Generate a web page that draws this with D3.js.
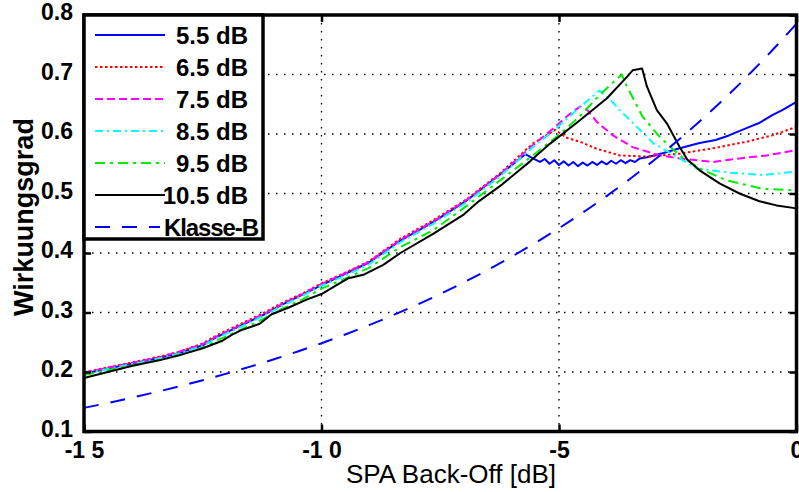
<!DOCTYPE html>
<html>
<head>
<meta charset="utf-8">
<script src="https://cdn.jsdelivr.net/npm/d3@7"></script>
<style>
  html, body { margin: 0; padding: 0; background: #fff; }
  svg { display: block; }
  text { font-family: "Liberation Sans", Arial, sans-serif; fill: #000; }
</style>
</head>
<body>
<svg id="chart" width="799" height="492"></svg>
<script>
// ---------------- data ----------------
const xTicks = [-15, -10, -5, 0];
const xTickLabels = ["-1 5", "-1 0", "-5", "0"];
const yTicks = [0.1, 0.2, 0.3, 0.4, 0.5, 0.6, 0.7, 0.8];
const yTickLabels = ["0.1", "0.2", "0.3", "0.4", "0.5", "0.6", "0.7", "0.8"];

const seriesNames = ["5.5 dB", "6.5 dB", "7.5 dB", "8.5 dB", "9.5 dB", "10.5 dB", "Klasse-B"];

const s55 = [[-15,0.197],[-14.5,0.206],[-14,0.214],[-13.4,0.224],[-13,0.232],[-12.5,0.245],[-12.2,0.259],
  [-11.7,0.278],[-11.2,0.297],[-10.86,0.312],[-10.4,0.330],[-10,0.346],[-9.5,0.365],[-9,0.384],[-8.34,0.421],
  [-7.65,0.452],[-6.93,0.489],[-6.24,0.532],[-5.71,0.566],[-5.55,0.559],[-5.4,0.553],[-5.3,0.558],[-5.2,0.550],
  [-5.1,0.556],[-5.0,0.548],[-4.9,0.554],[-4.8,0.547],[-4.7,0.553],[-4.6,0.546],[-4.5,0.552],[-4.4,0.547],
  [-4.3,0.553],[-4.2,0.548],[-4.1,0.554],[-4.0,0.549],[-3.9,0.555],[-3.8,0.550],[-3.7,0.556],[-3.6,0.551],
  [-3.5,0.556],[-3.4,0.553],[-3.3,0.559],[-3.15,0.561],[-2.8,0.568],[-2.46,0.576],[-2.04,0.585],[-1.7,0.590],
  [-1.41,0.598],[-0.99,0.612],[-0.8,0.618],[-0.5,0.632],[-0.3,0.640],[0,0.654]];

const s65 = [[-15,0.199],[-14.5,0.208],[-14,0.216],[-13.4,0.226],[-13,0.234],[-12.5,0.248],[-12.2,0.262],
  [-11.7,0.281],[-11.2,0.300],[-10.86,0.315],[-10.4,0.332],[-10,0.349],[-9.5,0.367],[-9,0.386],[-8.34,0.424],
  [-7.65,0.455],[-6.93,0.491],[-6.24,0.534],[-5.55,0.584],[-5.08,0.607],[-4.85,0.594],[-4.56,0.587],
  [-4.2,0.575],[-3.72,0.564],[-3.15,0.562],[-2.46,0.567],[-1.76,0.576],[-1.05,0.587],[-0.5,0.598],[0,0.612]];

const s75 = [[-15,0.199],[-14.5,0.207],[-14,0.215],[-13.4,0.225],[-13,0.234],[-12.5,0.247],[-12.2,0.260],
  [-11.7,0.279],[-11.2,0.298],[-10.86,0.313],[-10.4,0.331],[-10,0.348],[-9.5,0.366],[-9,0.385],[-8.34,0.422],
  [-7.65,0.453],[-6.93,0.490],[-6.24,0.532],[-5.55,0.581],[-5.08,0.612],[-4.8,0.632],[-4.56,0.646],
  [-4.4,0.640],[-4.2,0.620],[-3.87,0.598],[-3.45,0.578],[-2.88,0.564],[-2.46,0.559],[-1.76,0.553],
  [-1.2,0.559],[-0.63,0.564],[0,0.573]];

const s85 = [[-15,0.197],[-14.5,0.205],[-14,0.213],[-13.4,0.223],[-13,0.231],[-12.5,0.244],[-12.2,0.257],
  [-11.7,0.276],[-11.2,0.295],[-10.86,0.310],[-10.4,0.328],[-10,0.345],[-9.5,0.362],[-9,0.381],[-8.34,0.418],
  [-7.65,0.449],[-6.93,0.486],[-6.24,0.529],[-5.55,0.578],[-5.08,0.608],[-4.56,0.645],[-4.15,0.673],
  [-3.95,0.660],[-3.72,0.640],[-3.36,0.612],[-3.01,0.584],[-2.46,0.559],[-2.1,0.542],[-1.41,0.535],
  [-0.71,0.531],[0,0.537]];

const s95 = [[-15,0.195],[-14.5,0.203],[-14,0.211],[-13.4,0.220],[-13,0.228],[-12.5,0.241],[-12.2,0.253],
  [-11.7,0.271],[-11.2,0.290],[-10.86,0.305],[-10.4,0.322],[-10,0.340],[-9.5,0.357],[-9,0.375],[-8.34,0.410],
  [-7.65,0.438],[-6.93,0.480],[-6.24,0.522],[-5.55,0.564],[-4.98,0.600],[-4.56,0.630],[-4.14,0.666],
  [-3.68,0.700],[-3.57,0.680],[-3.24,0.629],[-2.88,0.595],[-2.46,0.564],[-2.04,0.542],[-1.47,0.522],
  [-0.71,0.508],[0,0.505]];

const s105 = [[-15,0.190],[-14.5,0.200],[-14,0.210],[-13.4,0.220],[-13,0.228],[-12.5,0.240],[-12.1,0.252],
  [-11.9,0.262],[-11.7,0.270],[-11.3,0.281],[-11.05,0.297],[-10.7,0.308],[-10.3,0.322],[-10,0.331],
  [-9.7,0.345],[-9.45,0.357],[-9.1,0.364],[-8.7,0.380],[-8.34,0.400],[-7.65,0.432],[-7.0,0.465],
  [-6.72,0.485],[-6.2,0.515],[-5.9,0.535],[-5.61,0.554],[-5.2,0.583],[-4.56,0.623],[-3.99,0.660],
  [-3.57,0.696],[-3.45,0.707],[-3.25,0.710],[-3.15,0.680],[-2.94,0.640],[-2.73,0.618],[-2.46,0.578],
  [-2.3,0.557],[-2.04,0.539],[-1.62,0.517],[-1.2,0.500],[-0.78,0.487],[-0.42,0.480],[0,0.475]];

const klasseB = [[-15,0.1397],[-14.5,0.1479],[-14,0.1567],[-13.5,0.1660],[-13,0.1758],[-12.5,0.1862],
  [-12,0.1973],[-11.5,0.2090],[-11,0.2214],[-10.5,0.2345],[-10,0.2484],[-9.5,0.2631],[-9,0.2787],
  [-8.5,0.2952],[-8,0.3127],[-7.5,0.3312],[-7,0.3508],[-6.5,0.3716],[-6,0.3936],[-5.5,0.4170],
  [-5,0.4417],[-4.5,0.4678],[-4,0.4956],[-3.5,0.5249],[-3,0.5560],[-2.5,0.5890],[-2,0.6239],
  [-1.5,0.6608],[-1,0.7000],[-0.5,0.7415],[0,0.7854]];

// ---------------- styles ----------------
const series = [
  { name: seriesNames[0], data: s55, color: "#0000ff", dash: null, width: 2 },
  { name: seriesNames[1], data: s65, color: "#ff0000", dash: "2.5,2.5", width: 2 },
  { name: seriesNames[2], data: s75, color: "#ff00ff", dash: "8,4", width: 2 },
  { name: seriesNames[3], data: s85, color: "#00ffff", dash: "8,4,2,4", width: 2 },
  { name: seriesNames[4], data: s95, color: "#00ee00", dash: "10,5,3,5", width: 2 },
  { name: seriesNames[5], data: s105, color: "#000000", dash: null, width: 2 },
  { name: seriesNames[6], data: klasseB, color: "#0000ff", dash: "15,12", width: 2 }
];

const svg = d3.select("#chart");
const L = 84, R = 796.5, T = 15, B = 431.5;

const x = d3.scaleLinear().domain([-15, 0]).range([L, R]);
const y = d3.scaleLinear().domain([0.1, 0.8]).range([B, T]);

svg.append("rect").attr("width", 799).attr("height", 492).attr("fill", "#fff");

// grid
const grid = svg.append("g");
grid.selectAll("line.gx").data(xTicks.slice(1, -1)).join("line")
  .attr("x1", d => x(d)).attr("x2", d => x(d)).attr("y1", T).attr("y2", B)
  .attr("stroke", "#000").attr("stroke-width", 1.4).attr("stroke-dasharray", "1.5,6.5");
grid.selectAll("line.gy").data(yTicks.slice(1, -1)).join("line")
  .attr("y1", d => y(d)).attr("y2", d => y(d)).attr("x1", L).attr("x2", R)
  .attr("stroke", "#000").attr("stroke-width", 1.4).attr("stroke-dasharray", "1.5,6.5");

// curves
const line = d3.line().x(d => x(d[0])).y(d => y(d[1]));
const curveLine = d3.line().x(d => x(d[0])).y(d => y(d[1])).curve(d3.curveMonotoneX);
const plot = svg.append("g");
series.forEach((s, i) => {
  plot.append("path")
    .datum(s.data)
    .attr("d", i === 6 ? curveLine : line)
    .attr("fill", "none")
    .attr("stroke", s.color)
    .attr("stroke-width", s.width)
    .attr("stroke-linejoin", "round")
    .attr("stroke-dasharray", s.dash);
});

// axes (ticks inward)
const tickLen = 7;
const axB = d3.axisBottom(x).tickValues(xTicks).tickSize(-tickLen).tickFormat((d, i) => xTickLabels[i]).tickPadding(10);
const axT = d3.axisTop(x).tickValues(xTicks).tickSize(-tickLen).tickFormat("");
const axL = d3.axisLeft(y).tickValues(yTicks).tickSize(-tickLen).tickFormat((d, i) => yTickLabels[i]).tickPadding(11);
const axR = d3.axisRight(y).tickValues(yTicks).tickSize(-tickLen).tickFormat("");

function styleAxis(g) {
  g.select(".domain").remove();
  g.selectAll(".tick line").attr("stroke", "#000").attr("stroke-width", 2.5);
  g.selectAll(".tick text").attr("font-size", 23).attr("font-weight", "bold")
    .attr("font-family", "'Liberation Sans', Arial, sans-serif").attr("fill", "#000");
}
svg.append("g").attr("transform", `translate(0,${B})`).call(axB).call(styleAxis);
svg.append("g").attr("transform", `translate(0,${T})`).call(axT).call(styleAxis);
const gl = svg.append("g").attr("transform", `translate(${L},0)`).call(axL).call(styleAxis);
gl.selectAll(".tick text").attr("dy", "0.2em");
svg.append("g").attr("transform", `translate(${R},0)`).call(axR).call(styleAxis);

// frame
svg.append("rect").attr("x", L).attr("y", T).attr("width", R - L).attr("height", B - T)
  .attr("fill", "none").attr("stroke", "#000").attr("stroke-width", 3.5);

// legend
const lg = svg.append("g");
lg.append("rect").attr("x", L).attr("y", T).attr("width", 179).attr("height", 224)
  .attr("fill", "#fff").attr("stroke", "#000").attr("stroke-width", 3.5);
series.forEach((s, i) => {
  const ry = 35 + i * 32;
  lg.append("line").attr("x1", 95).attr("x2", i === 6 ? 160 : 165).attr("y1", ry).attr("y2", ry)
    .attr("stroke", s.color).attr("stroke-width", s.width).attr("stroke-dasharray", s.dash);
  lg.append("text").attr("x", i === 6 ? 259 : 248).attr("y", ry + 8.5)
    .attr("text-anchor", "end").attr("font-size", 24).attr("font-weight", "bold")
    .attr("textLength", i === 6 ? 95 : null)
    .text(s.name);
});

// axis labels
svg.append("text").attr("x", 451).attr("y", 483).attr("text-anchor", "middle")
  .attr("font-size", 26).text("SPA Back-Off [dB]");
svg.append("text").attr("transform", "translate(33,217) rotate(-90)").attr("text-anchor", "middle")
  .attr("font-size", 27).attr("font-weight", "bold").text("Wirkuungsgrad");
</script>
</body>
</html>
